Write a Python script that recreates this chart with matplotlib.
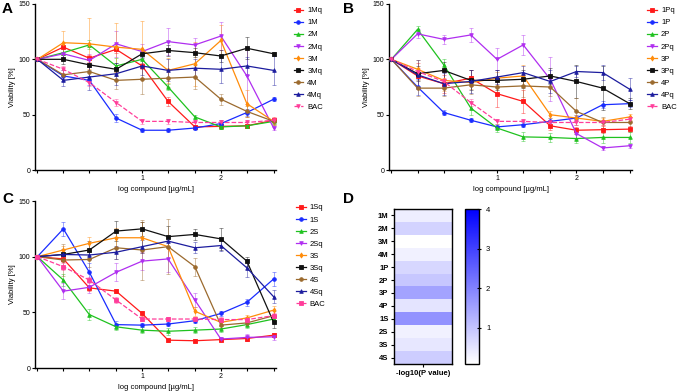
import numpy as np
import matplotlib.pyplot as plt
from matplotlib.colors import LinearSegmentedColormap

# x positions (log compound), labels only at 1 and 2
log_conc = [-0.33, 0.0, 0.33, 0.67, 1.0, 1.33, 1.67, 2.0, 2.33, 2.67]

# ---- panel A (M series) ----
a_names = ["1Mq", "1M", "2M", "2Mq", "3M", "3Mq", "4M", "4Mq", "BAC"]
a_vals = [
    [100, 111, 101, 109, 94, 62, 39, 39.5, 40, 45],
    [100, 85, 81, 47, 36, 36, 38, 42, 52, 64],
    [100, 106, 113, 94, 100, 75, 48, 39, 40, 44],
    [100, 105, 99, 114, 107, 116, 113, 121, 85, 38],
    [100, 115, 114, 111, 109, 90, 96, 117, 60, 44],
    [100, 100, 95, 91, 105, 108, 106, 103, 110, 105],
    [100, 86, 89, 81, 82, 83, 84, 64, 53, 44],
    [100, 81, 84, 87, 94, 90, 92, 91, 94, 90],
    [100, 91, 79, 61, 44, 44, 43, 43, 43, 45],
]
a_err = [
    [0, 4, 3, 3, 3, 4, 2, 2, 2, 3],
    [0, 5, 4, 4, 2, 2, 2, 3, 3, 2],
    [0, 5, 4, 7, 5, 3, 2, 2, 2, 2],
    [0, 6, 6, 12, 7, 12, 6, 13, 25, 2],
    [0, 11, 23, 22, 26, 11, 20, 14, 12, 3],
    [0, 4, 5, 6, 4, 5, 4, 5, 10, 2],
    [0, 4, 8, 8, 13, 8, 11, 5, 5, 3],
    [0, 5, 12, 10, 8, 10, 8, 12, 8, 13],
    [0, 3, 3, 3, 2, 2, 2, 2, 2, 2],
]

# ---- panel B (P series) ----
b_names = ["1Pq", "1P", "2P", "2Pq", "3P", "3Pq", "4P", "4Pq", "BAC"]
b_vals = [
    [100, 85, 78, 83, 69, 62, 40, 36, 36.5, 37],
    [100, 75, 52, 45, 39, 41, 44, 47, 59, 60],
    [100, 127, 95, 56, 38, 30, 29.5, 28.5, 29.5, 29.5],
    [100, 123, 118, 122, 100, 113, 82, 33, 20, 22],
    [100, 91, 81, 79, 83, 85, 50, 47, 44, 48],
    [100, 87, 90, 81, 81, 82, 85, 80, 74, 60],
    [100, 74, 74, 77, 75, 76, 75, 53, 43, 43],
    [100, 86, 78, 80, 84, 88, 80, 89, 88, 73],
    [100, 89, 80, 61, 44, 44, 43, 43, 43, 46],
]
b_err = [
    [0, 12, 8, 7, 12, 10, 4, 3, 3, 3],
    [0, 7, 2, 2, 2, 2, 3, 3, 3, 3],
    [0, 3, 5, 6, 4, 4, 4, 4, 5, 5],
    [0, 4, 4, 6, 10, 9, 20, 5, 2, 2],
    [0, 8, 10, 6, 6, 10, 3, 3, 3, 3],
    [0, 7, 8, 9, 9, 8, 7, 15, 20, 5],
    [0, 7, 7, 8, 7, 10, 8, 12, 5, 5],
    [0, 13, 10, 10, 6, 6, 10, 5, 7, 10],
    [0, 3, 3, 3, 2, 2, 2, 2, 2, 2],
]

# ---- panel C (S series) ----
c_names = ["1Sq", "1S", "2S", "2Sq", "3S", "3Sq", "4S", "4Sq", "BAC"]
c_vals = [
    [100, 98, 72, 69, 49, 25, 24.5, 25.5, 26.5, 29.5],
    [100, 125, 86, 39, 38.5, 39.5, 42.5, 49, 59, 80],
    [100, 79, 48, 37, 34, 33, 34, 35, 39, 44],
    [100, 69, 72.5, 86, 96, 98, 61, 26, 27.5, 28],
    [100, 106, 112, 117, 117, 109, 51, 41, 45, 52],
    [100, 102, 106, 123, 125, 118, 120, 116, 96, 41],
    [100, 97, 97.5, 108, 106, 109, 91, 38.5, 40.5, 47],
    [100, 102, 101.5, 104, 109, 114, 108, 110, 90, 64],
    [100, 91, 79, 61, 44, 44, 44, 43.5, 43.5, 47],
]
c_err = [
    [0, 3, 3, 2, 2, 1.5, 1.5, 1.5, 2, 2],
    [0, 6, 8, 3, 2, 2, 2, 2, 3, 6],
    [0, 5, 5, 3, 3, 3, 3, 3, 3, 3],
    [0, 7, 5, 8, 8, 12, 6, 2, 3, 3],
    [0, 4, 6, 9, 14, 10, 4, 3, 3, 4],
    [0, 5, 8, 9, 6, 10, 5, 10, 4, 5],
    [0, 14, 7, 10, 27, 25, 8, 3, 3, 4],
    [0, 4, 4, 6, 6, 5, 5, 5, 8, 6],
    [0, 3, 3, 3, 2, 2, 2, 2, 2, 2],
]

# ---- panel D heatmap ----
d_labels = ["1M", "2M", "3M", "4M", "1P", "2P", "3P", "4P", "1S", "2S", "3S", "4S"]
d_values = [0.35, 0.75, 0.05, 0.3, 0.7, 0.95, 1.5, 0.5, 1.75, 0.3, 0.45, 0.85]

colors = ["#ff1a1a", "#1a2cff", "#1fc21f", "#b02ef0", "#ff8c0a",
          "#111111", "#9b6a2e", "#1c1c9e", "#ff3d9a"]
markers = ["s", "o", "^", "v", "d", "s", "o", "^", "v"]

plt.rcParams["font.family"] = ["Liberation Sans", "DejaVu Sans"]
fig = plt.figure(figsize=(6.77, 3.92), dpi=100)


def line_panel(rect, names, vals, errs, bac_marker, legend_x):
    ax = fig.add_axes(rect)
    for k, name in enumerate(names):
        c = colors[k]
        mk = bac_marker if name == "BAC" else markers[k]
        ls = "--" if name == "BAC" else "-"
        ax.errorbar(log_conc, vals[k], yerr=errs[k], fmt="none", ecolor=c,
                    elinewidth=0.6, capsize=1.2, capthick=0.6, alpha=0.5,
                    zorder=2)
        ax.plot(log_conc, vals[k], color=c, ls=ls, lw=0.9, marker=mk,
                ms=2.6, mew=0.6, label=name, zorder=3 + k * 0.1)
    ax.set_xlim(-0.36, 2.7)
    ax.set_ylim(0, 150)
    ax.set_xticks(log_conc)
    ax.set_xticklabels(["", "", "", "", "1", "", "", "2", "", ""])
    ax.set_yticks([0, 50, 100, 150])
    ax.spines["top"].set_visible(False)
    ax.spines["right"].set_visible(False)
    for s in ("left", "bottom"):
        ax.spines[s].set_linewidth(1.0)
    ax.tick_params(labelsize=5, length=2.5, width=0.8, pad=1)
    ax.set_xlabel("log compound [\u00b5g/mL]", fontsize=5.5, labelpad=3)
    ax.set_ylabel("Viability [%]", fontsize=5.5, labelpad=2)
    ax.legend(loc="upper left", bbox_to_anchor=(legend_x, 1.0), frameon=False,
              fontsize=5.5, handlelength=1.3, labelspacing=0.62,
              handletextpad=0.5, borderaxespad=0)
    return ax


line_panel([0.0517, 0.566, 0.356, 0.424], a_names, a_vals, a_err, "v", 1.06)
line_panel([0.5746, 0.566, 0.359, 0.424], b_names, b_vals, b_err, "v", 1.05)
line_panel([0.0517, 0.0612, 0.356, 0.426], c_names, c_vals, c_err, "s", 1.07)

# heatmap
axd = fig.add_axes([0.582, 0.0714, 0.0857, 0.3954])
cmap = LinearSegmentedColormap.from_list("wb", ["#ffffff", "#0000ff"])
im = axd.imshow(np.array(d_values).reshape(-1, 1), cmap=cmap, vmin=0.08, vmax=4,
                aspect="auto")
axd.set_yticks(range(len(d_labels)))
axd.set_yticklabels(d_labels, fontsize=5.5, fontweight="bold")
axd.set_xticks([0])
axd.set_xticklabels(["-log10(P value)"], fontsize=5.5, fontweight="bold")
axd.tick_params(length=2.5, width=0.8, pad=1.5)
for s in axd.spines.values():
    s.set_linewidth(1.0)

axc = fig.add_axes([0.687, 0.0714, 0.0207, 0.3954])
cb = fig.colorbar(im, cax=axc, ticks=[1, 2, 3, 4])
cb.ax.tick_params(labelsize=5.5, length=3, width=0.8, direction="inout")
cb.outline.set_linewidth(1.0)

for letter, x, y in [("A", 0.003, 0.995), ("B", 0.507, 0.995),
                     ("C", 0.003, 0.51), ("D", 0.507, 0.51)]:
    fig.text(x, y, letter, fontsize=11, fontweight="bold", ha="left", va="top")

fig.savefig("out.png", dpi=100)
